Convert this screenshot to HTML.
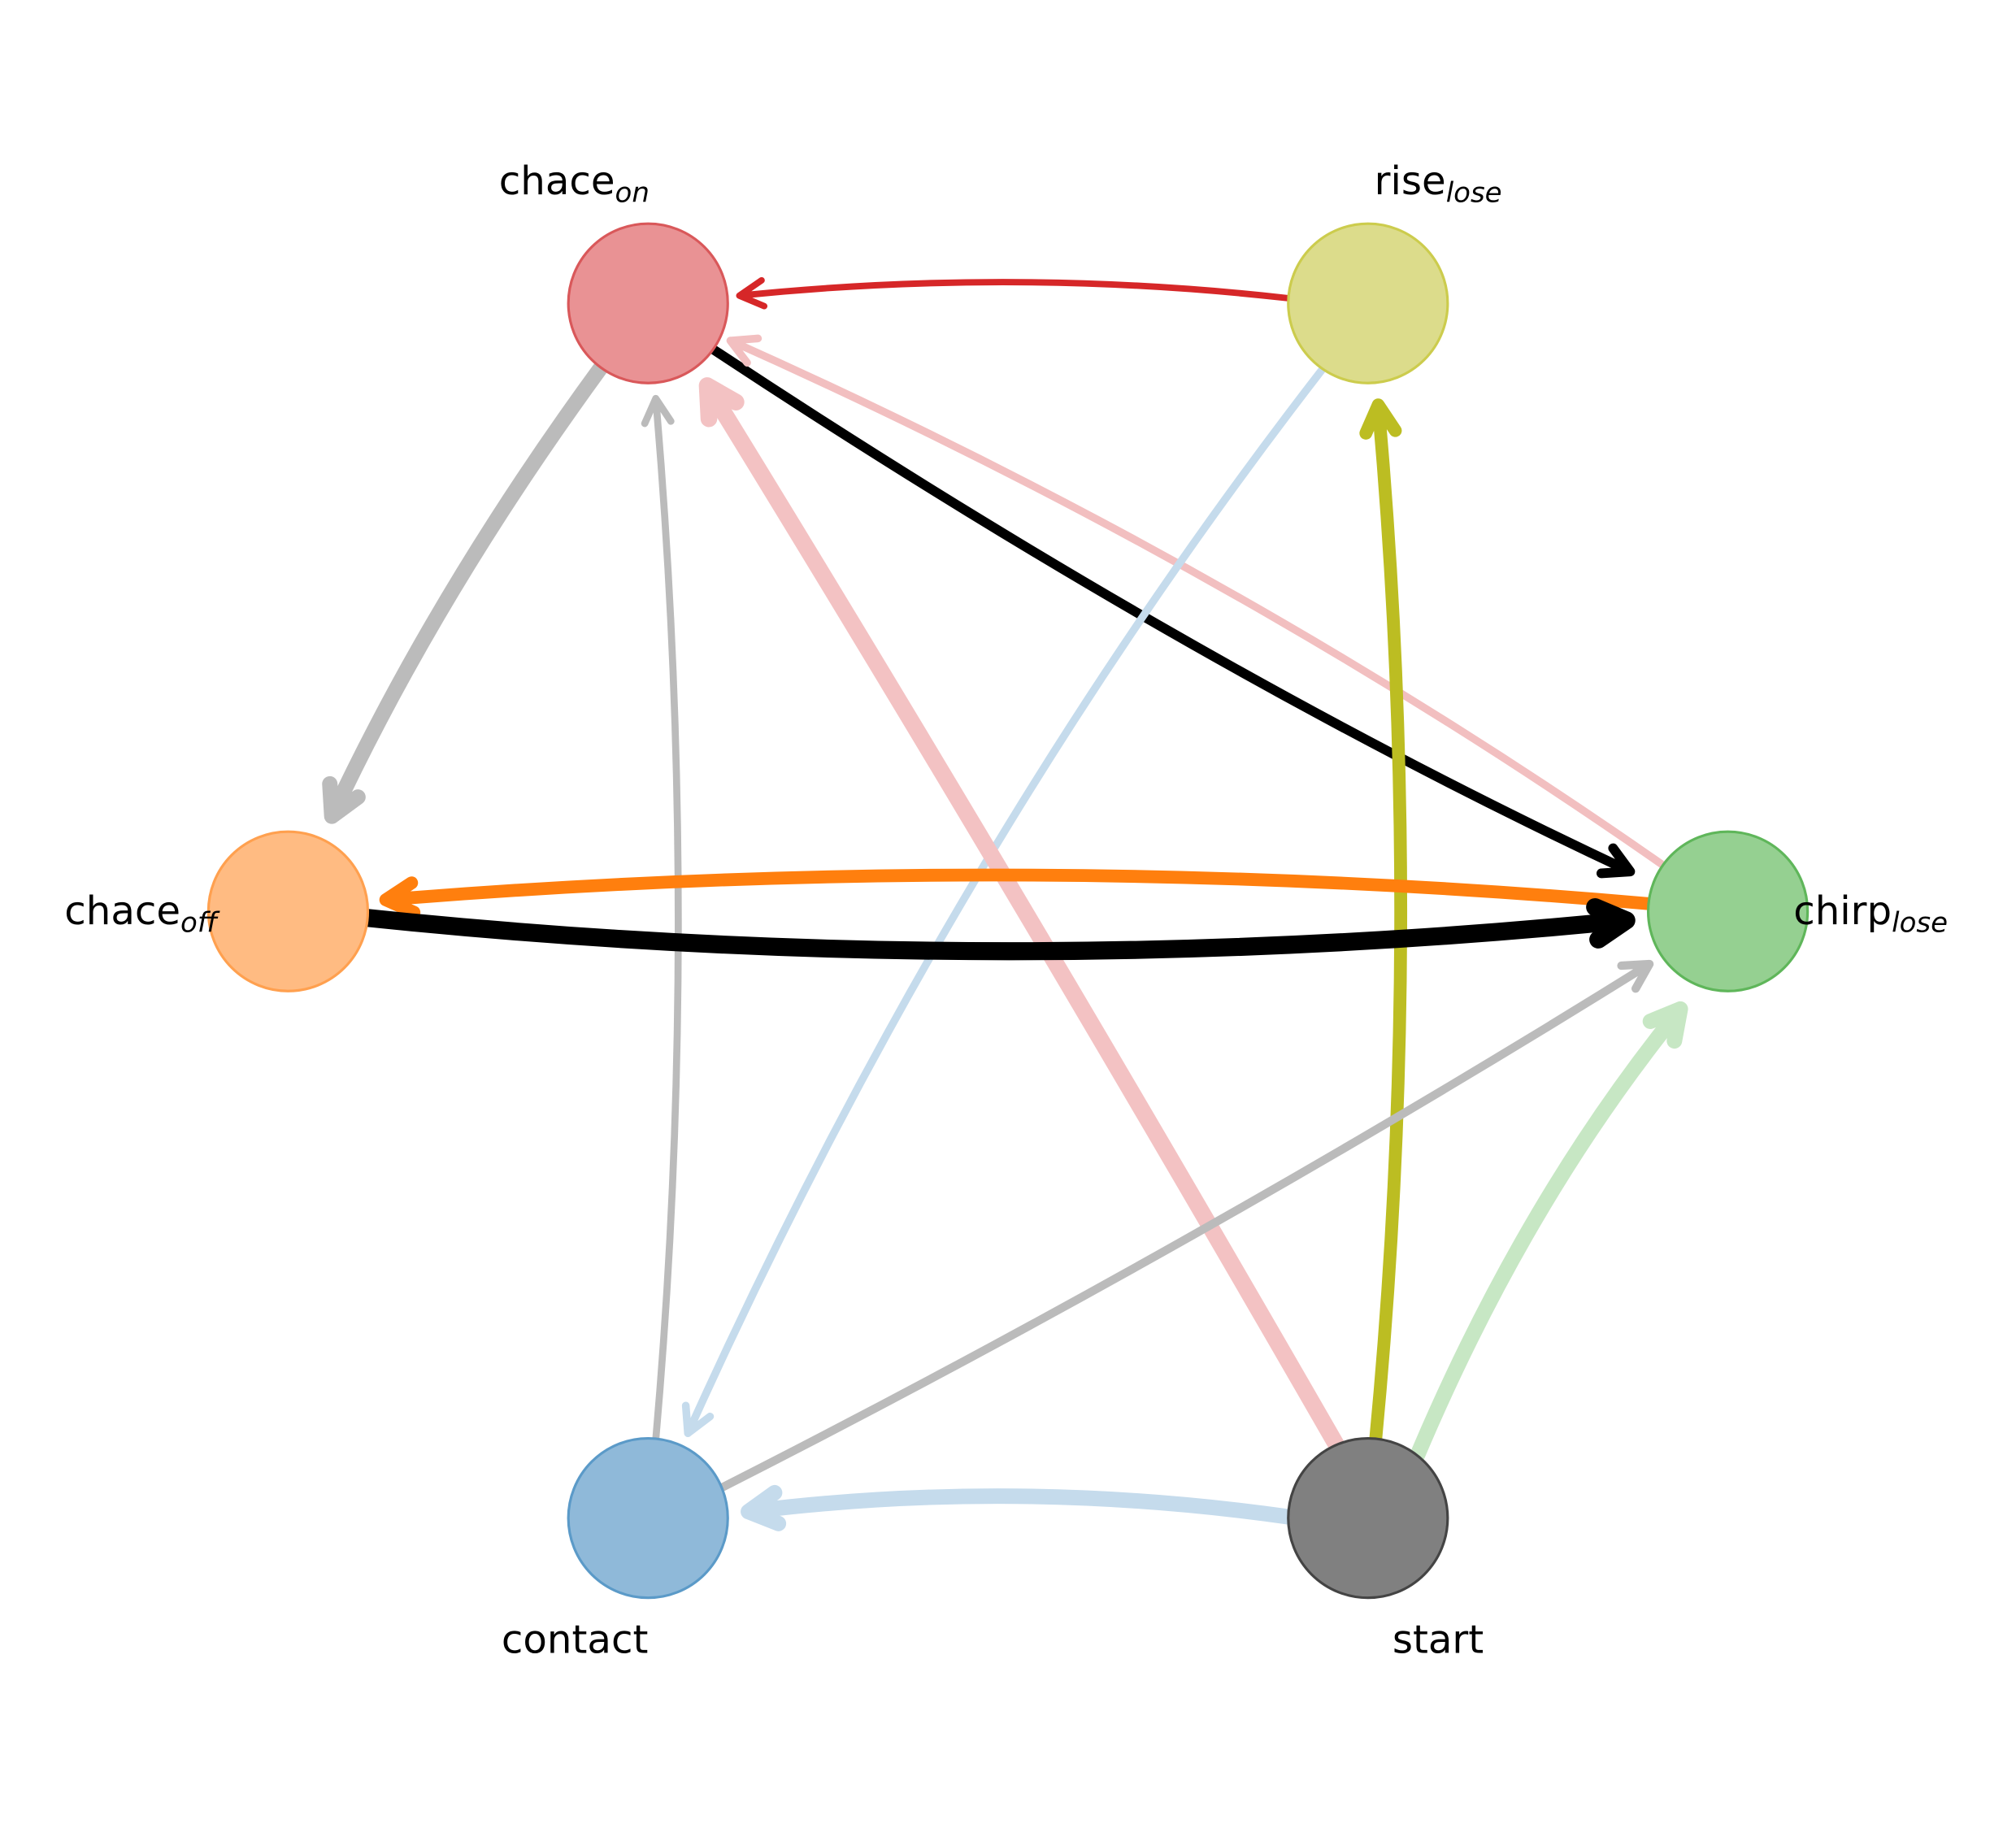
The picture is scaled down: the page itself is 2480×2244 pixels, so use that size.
<!DOCTYPE html>
<html><head><meta charset="utf-8"><style>
html,body{margin:0;padding:0;background:#fff}
svg{display:block}
text{font-family:"DejaVu Sans","Liberation Sans",sans-serif;fill:#000}
</style></head><body>
<svg id="s" width="2480" height="2244" viewBox="0 0 1568 1419" xmlns="http://www.w3.org/2000/svg">
<rect width="1568" height="1419" fill="#fff"/>
<g id="edges"></g>
<g id="nodes">
<circle cx="504" cy="236" r="62" fill="#e99294" stroke="#d9585a" stroke-width="2"/>
<circle cx="1064" cy="236" r="62" fill="#dcdc8b" stroke="#cccc4d" stroke-width="2"/>
<circle cx="224" cy="709" r="62" fill="#ffbb82" stroke="#ffa04f" stroke-width="2"/>
<circle cx="1344" cy="709" r="62" fill="#95d091" stroke="#5fb65a" stroke-width="2"/>
<circle cx="504" cy="1181" r="62" fill="#8fb9d9" stroke="#5b9ac8" stroke-width="2"/>
<circle cx="1064" cy="1181" r="62" fill="#808080" stroke="#444" stroke-width="2"/>
</g>
<g font-size="30.5">
<text x="388" y="151">chace<tspan font-size="21.5" dy="6" font-style="italic">on</tspan></text>
<text x="1069" y="151">rise<tspan font-size="21.5" dy="6" font-style="italic">lose</tspan></text>
<text x="50" y="719">chace<tspan font-size="21.5" dy="6" font-style="italic">off</tspan></text>
<text x="1395" y="719">chirp<tspan font-size="21.5" dy="6" font-style="italic">lose</tspan></text>
<text x="390" y="1286">contact</text>
<text x="1083" y="1286">start</text>
</g>
</svg>
<script>
var E=[
[1002,232,790,208,575,230,"#d62728",1,5],
[468,285,340,460,258,635,"#bbbbbb",1,12],
[555,272,930,520,1268,678,"#000",1,7.5],
[1292,672,960,440,568,265,"#f2bfc0",1,6],
[510,1120,545,720,510,310,"#bbbbbb",1,5.5],
[1028,288,740,660,535,1115,"#c5dbec",1,6],
[1040,1125,790,690,550,300,"#f3c2c3",1,13],
[1070,1120,1108,720,1072,315,"#bcbd22",1,10],
[1100,1138,1185,935,1307,785,"#c7e7c4",1,12],
[562,1157,930,970,1283,750,"#bbbbbb",1,6.5],
[1282,703,790,660,300,700,"#ff7f0e",1,10],
[285,714,775,765,1265,716,"#000",1,14],
[1002,1180,790,1150,582,1176,"#c5dbec",1,12]
];
var g=document.getElementById('edges'),ns="http://www.w3.org/2000/svg";
E.forEach(function(e){
 var x0=e[0],y0=e[1],cx=e[2],cy=e[3],x1=e[4],y1=e[5],c=e[6],w=e[8];
 var dx=x1-cx,dy=y1-cy,L=Math.hypot(dx,dy);dx/=L;dy/=L;
 var al=18+w*0.6,a=0.5;
 function pt(s){var ca=Math.cos(s*a),sa=Math.sin(s*a);var vx=-dx*ca+dy*sa*1,vy=-dy*ca-dx*sa;return [x1+vx*al,y1+vy*al];}
 var p1=pt(1),p2=pt(-1);
 var p=document.createElementNS(ns,'path');
 p.setAttribute('d','M'+x0+' '+y0+' Q'+cx+' '+cy+' '+x1+' '+y1+' M'+p1[0]+' '+p1[1]+' L'+x1+' '+y1+' L'+p2[0]+' '+p2[1]);
 p.setAttribute('fill','none');p.setAttribute('stroke',c);p.setAttribute('stroke-width',w);
 p.setAttribute('stroke-linecap','round');p.setAttribute('stroke-linejoin','round');
 g.appendChild(p);
});
</script>
</body></html>
